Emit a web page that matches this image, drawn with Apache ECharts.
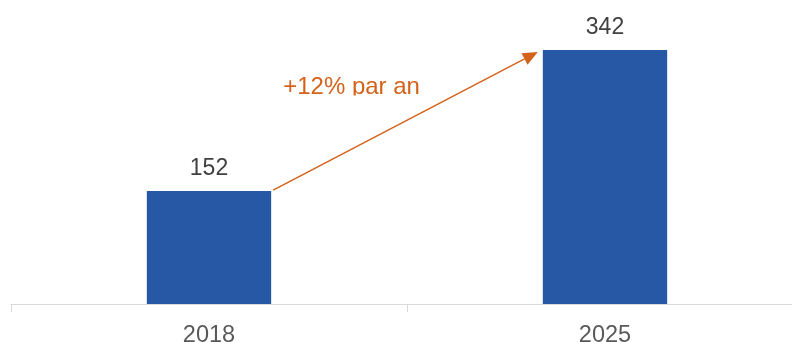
<!DOCTYPE html>
<html><head><meta charset="utf-8">
<script src="https://cdn.jsdelivr.net/npm/echarts@6/dist/echarts.min.js"></script>
<style>html,body{margin:0;padding:0;background:#fff}#c{width:792px;height:342px}</style>
</head><body><div id="c"></div>
<script>
const categories = ['2018', '2025'];
const values = [152, 342];
const growthLabel = '+12% par an';

const FONT = '"Liberation Sans", Arial, sans-serif';
const BAR = '#2658A5';
const ORANGE = '#D4621A';
const chart = echarts.init(document.getElementById('c'), null, {renderer: 'canvas'});
const barFrac = 0.314;
chart.setOption({
  animation: false,
  grid: {left: 11, top: 50, width: 792, height: 254, containLabel: false, outerBoundsMode: 'none'},
  xAxis: {
    type: 'category', data: categories,
    axisLine: {lineStyle: {color: '#D9D9D9', width: 1}},
    axisTick: {show: true, length: 8, lineStyle: {color: '#D9D9D9'}},
    axisLabel: {color: '#595959', fontSize: 23.5, fontFamily: FONT, margin: 20}
  },
  yAxis: {type: 'value', min: 0, max: 342, show: false, splitLine: {show: false}},
  series: [{
    type: 'bar', data: values, barWidth: (barFrac * 100) + '%',
    itemStyle: {color: BAR},
    label: {show: true, position: 'top', distance: 11, color: '#404040', fontSize: 23, fontFamily: FONT}
  }]
});

// arrow annotation derived from the chart scales
const p0 = chart.convertToPixel({seriesIndex: 0}, [0, values[0]]);
const p1 = chart.convertToPixel({seriesIndex: 0}, [1, values[1]]);
const catW = p1[0] - p0[0];
const half = catW * barFrac / 2;
const x0 = p0[0] + half + 2, y0 = p0[1] - 1;
const x1 = p1[0] - half - 5, y1 = p1[1] + 2;
const ang = Math.atan2(y1 - y0, x1 - x0);
const hl = 15, hw = 6.5;
const bx = x1 - hl * Math.cos(ang), by = y1 - hl * Math.sin(ang);
const nx = -Math.sin(ang), ny = Math.cos(ang);
const tx = x0 + 10, ty = (p0[1] + p1[1]) / 2 - 33;
chart.setOption({
  graphic: [
    {type: 'line', shape: {x1: x0, y1: y0, x2: bx, y2: by}, style: {stroke: ORANGE, lineWidth: 1.5}},
    {type: 'polygon', shape: {points: [[x1, y1], [bx + nx * hw, by + ny * hw], [bx - nx * hw, by - ny * hw]]}, style: {fill: ORANGE}},
    {type: 'text', x: tx, y: ty, style: {text: growthLabel, fill: ORANGE, fontSize: 24, fontFamily: FONT, textVerticalAlign: 'middle'}},
    {type: 'rect', shape: {x: tx - 2, y: ty + 8, width: 145, height: 10}, style: {fill: '#fff'}, z: 10}
  ]
});
</script></body></html>
